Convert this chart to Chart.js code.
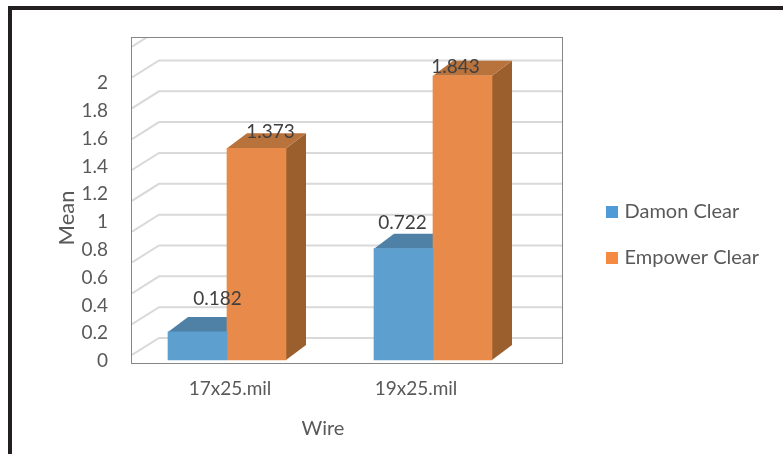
<!DOCTYPE html>
<html>
<head>
<meta charset="utf-8">
<title>Mean by wire</title>
<script src="https://cdn.jsdelivr.net/npm/chart.js@4"></script>
<style>
  html, body { margin: 0; padding: 0; background: #fff; overflow: hidden; }
  #wrap { position: relative; width: 783px; height: 454px; }
  #frame { position: absolute; left: 8px; top: 6px; right: 0; bottom: 0;
           border-left: 4px solid #231f20; border-top: 4px solid #231f20; }
  canvas { position: absolute; left: 0; top: 0; }
</style>
</head>
<body>
<div id="wrap">
  <div id="frame"></div>
  <canvas id="meanChart" width="783" height="454"></canvas>
</div>
<script>
const categories = ['17x25.mil', '19x25.mil'];
const damonClear = [0.182, 0.722];
const empowerClear = [1.373, 1.843];
const seriesNames = ['Damon Clear', 'Empower Clear'];
const yTicks = [0, 0.2, 0.4, 0.6, 0.8, 1, 1.2, 1.4, 1.6, 1.8, 2];

const font = 'Lato';
const textColor = '#595959';

// 3D look: depth of the bars and of the side wall
const barDepth = { x: 20, y: 15 };
const wallDepth = { x: 27, y: 22 };
const wallFront = 5; // the wall's front edge sits a little above the value

const faces = [
    { front: '#5d9fcf', top: '#4f81a7', side: '#4a7ea6', legend: '#4f9bd8' },
    { front: '#e88b4a', top: '#b8723c', side: '#9b5f2d', legend: '#f58a42' }
];

// nudges for the value labels, same order as the series
const labelShift = [
    [{ x: 20, y: -33 }, { x: -1, y: -26 }],
    [{ x: 14, y: -16 }, { x: -7, y: -9 }]
];

function fromArrays(values) {
    return values.map((v, i) => ({ x: i, y: v }));
}

function quad(ctx, color, pts) {
    ctx.fillStyle = color;
    ctx.beginPath();
    pts.forEach((p, i) => i ? ctx.lineTo(p[0], p[1]) : ctx.moveTo(p[0], p[1]));
    ctx.closePath();
    ctx.fill();
}

const fake3d = {
    id: 'fake3d',
    afterLayout(chart) {
        // legend sits lower than Chart.js would put it
        const l = chart.legend;
        l.left = 583.5;
        l.right = 783;
        l.top = 176;
        l.bottom = 300;
    },
    beforeDatasetsDraw(chart) {
        const { ctx, chartArea: a, scales } = chart;

        // wall grid lines
        ctx.save();
        ctx.beginPath();
        ctx.rect(a.left, a.top, a.right - a.left, a.bottom - a.top);
        ctx.clip();
        ctx.strokeStyle = '#d9d9d9';
        ctx.lineWidth = 2;
        yTicks.forEach(v => {
            const py = scales.y.getPixelForValue(v);
            ctx.beginPath();
            ctx.moveTo(a.left, py - wallFront);
            ctx.lineTo(a.left + wallDepth.x, py - wallDepth.y);
            ctx.lineTo(a.right, py - wallDepth.y);
            ctx.stroke();
        });
        ctx.restore();

        // top and side faces go under the fronts
        chart.data.datasets.forEach((ds, d) => {
            chart.getDatasetMeta(d).data.forEach(bar => {
                const p = bar.getProps(['x', 'y', 'base', 'width']);
                const l = p.x - p.width / 2, r = p.x + p.width / 2;
                const dx = barDepth.x, dy = barDepth.y;
                quad(ctx, faces[d].side, [[r, p.y], [r + dx, p.y - dy], [r + dx, p.base - dy], [r, p.base]]);
                quad(ctx, faces[d].top, [[l, p.y], [l + dx, p.y - dy], [r + dx, p.y - dy], [r, p.y]]);
            });
        });
    },
    afterDatasetsDraw(chart) {
        const { ctx, chartArea: a } = chart;

        // plot border
        ctx.save();
        ctx.strokeStyle = '#868686';
        ctx.lineWidth = 1;
        ctx.strokeRect(a.left - 0.5, a.top - 0.5, a.right - a.left + 1, a.bottom - a.top + 1);

        // value labels
        ctx.font = '19px ' + font;
        ctx.fillStyle = '#404040';
        ctx.textAlign = 'center';
        ctx.textBaseline = 'middle';
        chart.data.datasets.forEach((ds, d) => {
            chart.getDatasetMeta(d).data.forEach((bar, i) => {
                const s = labelShift[d][i];
                ctx.fillText(String(ds.data[i].y), bar.x + s.x, bar.y + s.y);
            });
        });

        // axis titles
        ctx.fillStyle = textColor;
        ctx.font = '20px ' + font;
        ctx.fillText('Wire', 323, 429);
        ctx.font = '22px ' + font;
        ctx.translate(67, 218);
        ctx.rotate(-Math.PI / 2);
        ctx.fillText('Mean', 0, 0);
        ctx.restore();
    }
};

const tempChart = new Chart(document.getElementById('meanChart').getContext('2d'), {
    type: 'bar',
    data: {
        datasets: [
            { label: seriesNames[0], data: fromArrays(damonClear), backgroundColor: faces[0].front },
            { label: seriesNames[1], data: fromArrays(empowerClear), backgroundColor: faces[1].front }
        ]
    },
    options: {
        responsive: false,
        animation: false,
        barThickness: 59,
        layout: { padding: { left: 0, top: 38, right: 221, bottom: 0 } },
        scales: {
            // bars: 0 at y=360, 154.2px per unit; groups at x=227 and 433
            x: { type: 'linear', display: false, min: -95 / 206, max: 335 / 206, offset: false },
            y: { display: false, min: -3 / 154.2, max: 322 / 154.2 },
            // axis labels do not line up with the bars in the original, so they get their own scales
            yLabels: {
                axis: 'y',
                position: 'left',
                min: -2 / 139,
                max: 323 / 139,
                grid: { display: false },
                border: { display: false },
                afterBuildTicks: s => { s.ticks = yTicks.map(v => ({ value: v })); },
                afterFit: s => { s.width = 132; },
                ticks: {
                    color: textColor,
                    font: { family: font, size: 19 },
                    padding: 16,
                    autoSkip: false,
                    callback: v => String(v)
                }
            },
            xLabels: {
                type: 'linear',
                axis: 'x',
                position: 'bottom',
                offset: false,
                min: -98 / 186,
                max: 332 / 186,
                grid: { display: false },
                border: { display: false },
                afterBuildTicks: s => { s.ticks = categories.map((c, i) => ({ value: i })); },
                afterFit: s => { s.height = 91; },
                ticks: {
                    color: textColor,
                    font: { family: font, size: 19 },
                    padding: 6,
                    autoSkip: false,
                    maxRotation: 0,
                    callback: v => categories[v]
                }
            }
        },
        plugins: {
            tooltip: { enabled: false },
            legend: {
                position: 'chartArea',
                align: 'start',
                labels: {
                    color: textColor,
                    font: { family: font, size: 20 },
                    usePointStyle: true, // square keeps its size, narrow boxWidth pulls the text closer
                    boxWidth: 5,
                    boxHeight: 12,
                    padding: 26,
                    generateLabels: chart => chart.data.datasets.map((ds, i) => ({
                        text: ds.label,
                        fillStyle: faces[i].legend,
                        strokeStyle: faces[i].legend,
                        lineWidth: 0,
                        pointStyle: 'rect',
                        fontColor: textColor,
                        datasetIndex: i
                    }))
                }
            }
        }
    },
    plugins: [fake3d]
});
</script>
</body>
</html>
